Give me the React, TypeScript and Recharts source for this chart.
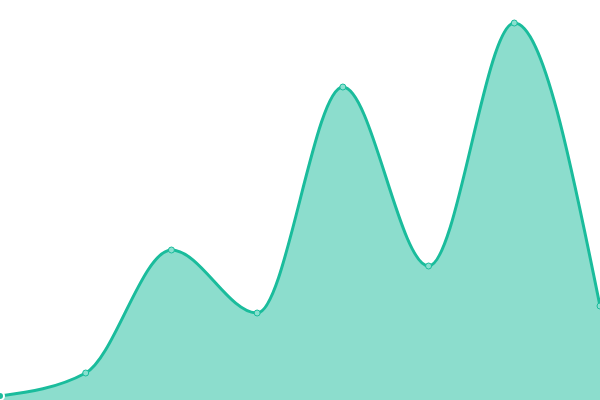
import { AreaChart, Area, XAxis, YAxis } from "recharts";

const labels = ["A", "B", "C", "D", "E", "F", "G", "H"];
const values = [4, 27, 150, 87, 313, 134, 377, 94];

const data = labels.map((label, i) => ({ label, value: values[i] }));

export default function App() {
  return (
    <div style={{ position: "absolute", top: 0, left: 0, width: 600, height: 400, background: "#fff" }}>
      <AreaChart width={600} height={400} data={data} margin={{ top: 0, right: 0, bottom: 0, left: 0 }}>
        <XAxis dataKey="label" hide />
        <YAxis domain={[0, 400]} hide />
        <Area
          type="monotone"
          dataKey="value"
          stroke="#1abc9c"
          strokeWidth={3}
          fill="#1abc9c"
          fillOpacity={0.5}
          dot={{ r: 3, fill: "#8ae0d0", stroke: "#1abc9c", strokeWidth: 1, fillOpacity: 1 }}
          isAnimationActive={false}
        />
      </AreaChart>
    </div>
  );
}
